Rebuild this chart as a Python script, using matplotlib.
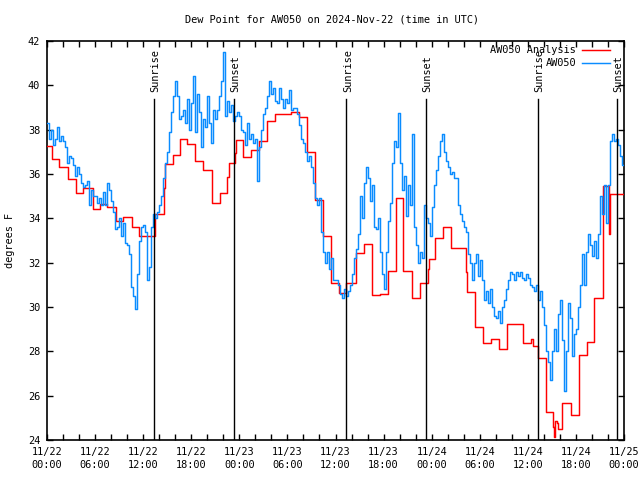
import numpy as np
import matplotlib
matplotlib.use("Agg")
import matplotlib.pyplot as plt
from matplotlib.lines import Line2D

# ---------------- data ----------------
# Observed dew point (deg F), 15-minute readings from 11/22 00:00 UTC
blue_vals = [
    38.3, 37.6, 38.0, 37.3,  37.6, 38.1, 37.5, 37.7,  37.5, 37.2, 36.5, 36.8,
    36.7, 36.4, 35.9, 36.3,  36.0, 35.6, 35.4, 35.5,  35.7, 34.6, 35.3, 35.0,
    35.0, 34.7, 34.9, 34.6,  35.2, 34.6, 35.6, 35.3,  34.8, 34.3, 33.5, 33.6,
    34.0, 33.2, 33.8, 32.9,  32.8, 32.4, 30.9, 30.5,  29.9, 31.5, 33.0, 33.6,
    33.7, 33.4, 31.2, 31.8,  33.6, 34.2, 34.0, 34.3,  34.6, 35.0, 35.8, 36.5,
    37.0, 37.9, 38.8, 39.5,  40.2, 39.5, 38.5, 38.6,  38.9, 38.3, 39.4, 38.0,
    39.2, 40.4, 37.9, 39.6,  38.8, 37.2, 38.5, 38.1,  39.5, 38.3, 37.4, 38.9,
    38.5, 38.9, 39.5, 40.2,  41.5, 38.6, 39.3, 38.8,  39.1, 38.4, 38.6, 38.8,
    38.6, 38.0, 37.9, 37.3,  38.3, 37.6, 37.8, 37.4,  37.6, 35.7, 37.2, 38.0,
    38.7, 39.0, 39.5, 40.2,  39.6, 39.9, 39.3, 39.2,  39.9, 39.4, 39.0, 39.4,
    39.2, 39.8, 38.9, 39.0,  39.0, 38.7, 38.2, 37.6,  37.4, 37.0, 36.6, 36.8,
    36.3, 35.6, 34.9, 34.6,  34.9, 33.4, 32.5, 32.0,  32.5, 31.7, 32.2, 31.2,
    31.2, 31.0, 30.6, 30.4,  30.8, 30.5, 30.7, 31.0,  31.5, 32.2, 32.6, 33.3,
    35.0, 34.0, 35.6, 36.3,  35.8, 34.8, 35.5, 33.6,  33.5, 34.0, 32.5, 31.5,
    30.8, 32.5, 33.9, 34.7,  36.5, 37.5, 37.2, 38.75, 36.5, 35.3, 35.9, 34.1,
    35.5, 34.6, 37.8, 33.6,  32.8, 32.0, 32.5, 32.2,  34.6, 34.0, 33.8, 33.2,
    34.5, 35.5, 36.2, 36.8,  37.5, 37.8, 37.0, 36.6,  36.3, 36.0, 36.1, 35.8,
    35.8, 34.6, 34.2, 33.9,  33.6, 33.4, 32.4, 32.0,  31.2, 32.0, 32.4, 31.4,
    32.1, 31.2, 30.3, 30.7,  30.2, 30.8, 30.0, 29.6,  29.5, 29.8, 29.3, 30.0,
    30.3, 30.8, 31.2, 31.6,  31.5, 31.2, 31.6, 31.4,  31.6, 31.3, 31.2, 31.5,
    31.3, 31.0, 30.9, 30.7,  31.0, 30.3, 30.7, 30.0,  29.2, 28.0, 27.5, 26.7,
    28.0, 29.0, 28.0, 29.7,  30.3, 28.5, 26.2, 28.0,  30.2, 29.5, 27.8, 28.8,
    29.0, 30.0, 31.0, 32.4,  31.0, 32.5, 33.3, 32.8,  32.3, 33.0, 32.2, 33.3,
    35.0, 34.2, 35.5, 33.8,  35.5, 37.5, 37.8, 37.5,  37.6, 37.3, 36.8, 36.4,
]

# Analysis (step changes): hour since 11/22 00:00 UTC, value
red_hours = [0, 0.58, 1.5, 2.66, 3.62, 4.53, 5.78, 6.6, 7.45, 8.57, 9.53, 10.57,
             11.52, 13.48, 14.6, 14.75, 15.68, 16.6, 17.5, 18.5, 19.5, 20.55,
             21.6, 22.5, 22.65, 23.4, 23.55, 24.5, 25.5, 26.5, 27.5, 28.5,
             30.5, 31.5, 32.5, 33.5, 34.5, 35.5, 36.44, 37.35, 38.5, 39.5,
             40.5, 41.5, 42.5, 43.5, 44.4, 45.5, 46.5, 47.5, 47.7, 48.4,
             49.4, 50.4, 51.3, 52.3, 52.45, 53.4, 54.4, 55.4, 56.4, 57.4,
             59.4, 60.4, 60.6, 61.26, 62.3, 63.2, 63.3, 63.45, 63.6, 63.75,
             64.3, 65.4, 66.4, 67.4, 68.3, 69.4, 70.1, 70.3]
red_vals = [37.27, 36.66, 36.3, 35.76, 35.13, 35.36, 34.41, 34.63, 34.5, 33.9,
            34.05, 33.6, 33.2, 34.21, 35.36, 36.44, 36.86, 37.57, 37.36, 36.6,
            36.17, 34.68, 35.13, 35.85, 36.48, 36.93, 37.54, 36.75, 37.1, 37.5,
            38.4, 38.69, 38.78, 38.59, 37.0, 34.83, 33.2, 31.07, 30.62, 31.07,
            32.42, 32.84, 30.53, 30.58, 31.63, 34.93, 31.63, 30.4, 31.07, 31.7,
            32.15, 33.1, 33.6, 32.64, 32.67, 31.6, 30.66, 29.11, 28.36, 28.54,
            28.09, 29.22, 28.36, 28.54, 28.24, 27.68, 25.25, 24.6, 24.15, 24.87,
            24.75, 24.5, 25.66, 25.13, 27.84, 28.43, 30.4, 35.46, 33.3, 35.1]

sun_hours = [13.39, 23.37, 37.37, 47.33, 61.30, 71.16]
sun_labels = ["Sunrise", "Sunset", "Sunrise", "Sunset", "Sunrise", "Sunset"]

xtick_hours = list(range(0, 73, 6))
xtick_labels = ["11/22\n00:00", "11/22\n06:00", "11/22\n12:00", "11/22\n18:00",
                "11/23\n00:00", "11/23\n06:00", "11/23\n12:00", "11/23\n18:00",
                "11/24\n00:00", "11/24\n06:00", "11/24\n12:00", "11/24\n18:00",
                "11/25\n00:00"]
ytick_vals = list(range(24, 43, 2))

# ---------------- plot ----------------
FONT = "DejaVu Sans Mono"
FS = 7.4
plt.rcParams["font.family"] = [FONT]

fig = plt.figure(figsize=(6.4, 4.8), dpi=100)
W, H = 640, 480
L, R, T, B = 47, 624, 41, 440
ax = fig.add_axes([L / W, (H - B) / H, (R - L) / W, (B - T) / H])

bt = np.arange(len(blue_vals)) * 0.25
bt_ext = np.append(bt, 72.0)
bv_ext = np.append(blue_vals, blue_vals[-1])
rt_ext = np.append(red_hours, 72.0)
rv_ext = np.append(red_vals, red_vals[-1])

red_c = "#ff0000"
blue_c = "#0a8cff"
LW = 1.05
ax.plot(rt_ext, rv_ext, drawstyle="steps-post", color=red_c, lw=LW, zorder=3)
ax.plot(bt_ext, bv_ext, drawstyle="steps-post", color=blue_c, lw=LW, zorder=4)

ymin, ymax = 24, 42
ppu = (B - T) / (ymax - ymin)
line_top = ymin + (B - 99) / ppu
text_bottom = ymin + (B - 92) / ppu
for h, lab in zip(sun_hours, sun_labels):
    ax.plot([h, h], [ymin, line_top], color="black", lw=1.0, zorder=5)
    ax.text(h + 0.17, text_bottom, lab, rotation=90, ha="center", va="bottom",
            fontsize=FS, family=FONT, color="black", zorder=6)

ax.set_xlim(0, 72)
ax.set_ylim(ymin, ymax)
ax.set_xticks(xtick_hours)
ax.set_xticklabels(xtick_labels, fontsize=FS, linespacing=1.35)
ax.set_xticks(np.arange(0, 73, 2), minor=True)
ax.set_yticks(ytick_vals)
ax.set_yticklabels([str(v) for v in ytick_vals], fontsize=FS)
ax.tick_params(axis="both", which="both", direction="in", top=True, right=True,
               length=4, width=1, color="black")
ax.tick_params(axis="x", which="major", pad=5)
ax.tick_params(axis="y", which="major", pad=5)
for s in ax.spines.values():
    s.set_linewidth(1.2)
    s.set_color("black")

# legend (manual, gnuplot style)
def ax_xy(px, py):
    return (px - L) / (R - L), (B - py) / (B - T)

for py, lab, c in [(50, "AW050 Analysis", red_c), (63, "AW050", blue_c)]:
    tx, ty = ax_xy(576, py)
    ax.text(tx, ty, lab, transform=ax.transAxes, ha="right", va="center",
            fontsize=FS, family=FONT, zorder=7)
    x0, y0 = ax_xy(582, py)
    x1, _ = ax_xy(610, py)
    ax.add_line(Line2D([x0, x1], [y0, y0], transform=ax.transAxes, color=c,
                       lw=LW, zorder=7))

fig.text(332 / W, 1 - 20 / H, "Dew Point for AW050 on 2024-Nov-22 (time in UTC)",
         ha="center", va="center", fontsize=FS, family=FONT)
fig.text(10 / W, 1 - 240 / H, "degrees F", rotation=90, ha="center", va="center",
         fontsize=FS, family=FONT)

fig.savefig("out.png", dpi=100)
